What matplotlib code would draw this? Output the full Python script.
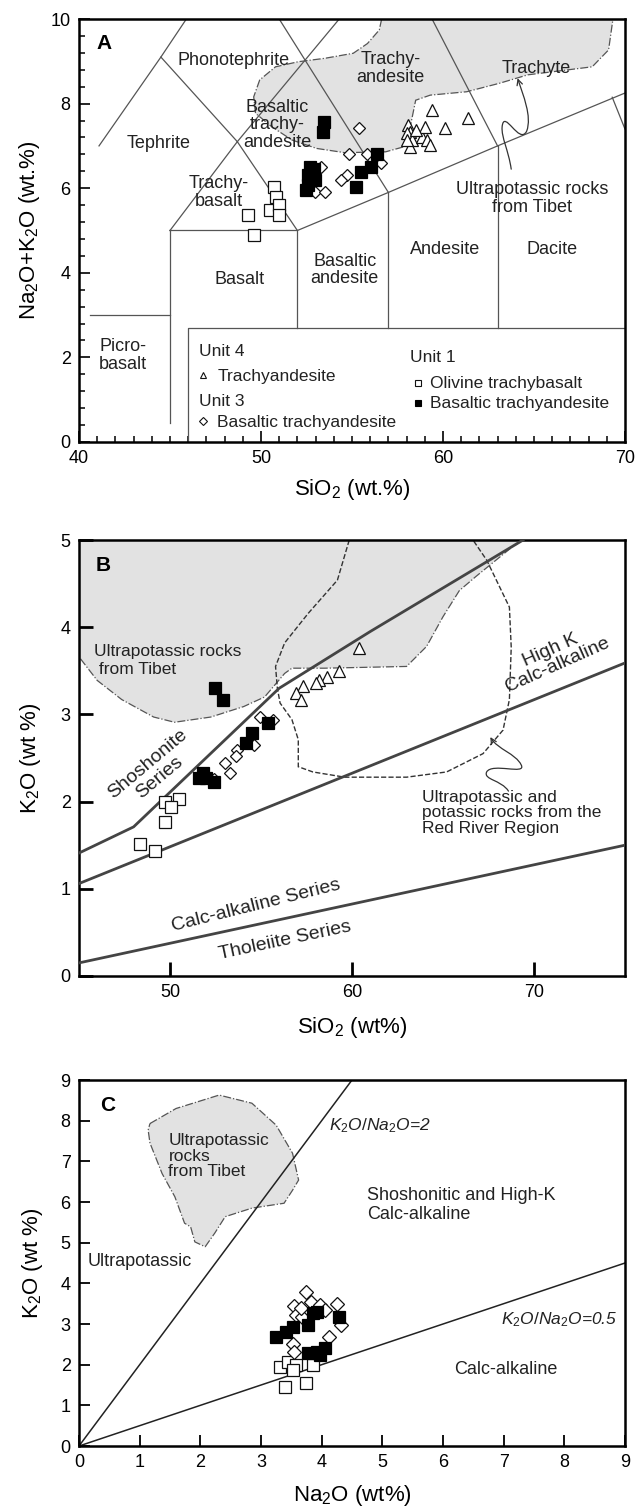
import matplotlib
matplotlib.use("Agg")
import matplotlib.pyplot as plt
from matplotlib.patches import Polygon, FancyArrowPatch
from matplotlib.path import Path
from matplotlib.ticker import MultipleLocator

plt.rcParams['font.family'] = ['Liberation Sans', 'DejaVu Sans']
plt.rcParams['mathtext.fontset'] = 'custom'
plt.rcParams['mathtext.rm'] = 'Liberation Sans'
plt.rcParams['mathtext.it'] = 'Liberation Sans:italic'

TXT = '#222222'
LINE = '#555555'
GREY = '#e2e2e2'

# ---------------- panel A : TAS ----------------
a_tri_x = [58.1, 58.2, 58.0, 58.3, 58.2, 58.85, 59.0, 59.1, 59.3, 59.4, 60.1, 61.4, 58.5, 58.0]
a_tri_y = [7.49, 7.34, 7.30, 7.14, 6.98, 7.22, 7.45, 7.14, 7.02, 7.85, 7.42, 7.65, 7.38, 7.14]
a_dia_x = [55.4, 54.85, 55.8, 56.6, 54.7, 54.4, 53.3, 52.95, 53.5]
a_dia_y = [7.42, 6.82, 6.82, 6.59, 6.31, 6.19, 6.51, 5.92, 5.92]
a_fsq_x = [53.45, 53.4, 52.7, 52.6, 52.6, 52.95, 55.2, 55.5, 56.05, 56.35, 52.5, 52.9]
a_fsq_y = [7.57, 7.34, 6.51, 6.31, 6.08, 6.19, 6.04, 6.39, 6.51, 6.82, 5.96, 6.45]
a_osq_x = [50.7, 50.8, 50.5, 51.0, 51.0, 49.3, 49.6]
a_osq_y = [6.04, 5.80, 5.48, 5.60, 5.37, 5.37, 4.89]

tas_lines = [
    [(40.6, 3.0), (45.0, 3.0)],
    [(45.0, 0.45), (45.0, 5.0)],
    [(41.1, 7.0), (44.5, 9.1), (45.9, 10.0)],
    [(44.5, 9.1), (48.7, 7.1)],
    [(45.0, 5.0), (48.7, 7.1), (52.0, 5.0)],
    [(45.0, 5.0), (52.0, 5.0), (57.0, 5.9), (63.0, 7.0), (70.0, 8.25)],
    [(48.7, 7.1), (54.3, 10.0)],
    [(51.0, 10.0), (57.0, 5.9)],
    [(59.4, 10.0), (63.0, 7.0)],
    [(52.0, 2.7), (52.0, 5.0)],
    [(57.0, 2.7), (57.0, 5.9)],
    [(63.0, 2.7), (63.0, 7.0)],
    [(69.3, 8.15), (70.0, 7.4)],
    [(46.0, 0.0), (46.0, 2.7), (70.0, 2.7)],
]
a_field = [(56.63, 10.0), (56.5, 9.74), (55.85, 9.42), (55.07, 9.19), (53.5, 9.07),
           (52.05, 8.99), (50.8, 8.87), (49.93, 8.56), (49.6, 8.16), (49.7, 7.77),
           (50.6, 7.45), (51.7, 7.14), (53.06, 6.94), (54.6, 6.84), (56.85, 6.86),
           (57.86, 6.98), (58.2, 7.45), (58.5, 8.08), (59.3, 8.2), (61.3, 8.28),
           (63.1, 8.48), (64.66, 8.68), (66.9, 8.8), (68.2, 8.87), (69.1, 9.27),
           (69.34, 10.0)]
# curved leader (start, control, control, end ...)
a_arrow = [(63.75, 6.45), (63.6, 6.9), (63.2, 7.2), (63.25, 7.45),
           (63.35, 7.9), (64.2, 7.0), (64.6, 7.35),
           (64.9, 7.7), (64.4, 8.2), (64.1, 8.6)]
a_labels = [
    ("Phonotephrite", 48.5, 9.03), ("Trachy-\nandesite", 57.1, 8.83),
    ("Trachyte", 65.1, 8.83), ("Basaltic\ntrachy-\nandesite", 50.9, 7.5),
    ("Tephrite", 44.35, 7.06), ("Trachy-\nbasalt", 47.7, 5.9),
    ("Ultrapotassic rocks\nfrom Tibet", 64.9, 5.76), ("Basaltic\nandesite", 54.6, 4.07),
    ("Basalt", 48.8, 3.83), ("Andesite", 60.1, 4.54), ("Dacite", 66.0, 4.54),
    ("Picro-\nbasalt", 42.4, 2.05),
]

# ---------------- panel B : K2O vs SiO2 ----------------
b_tri_x = [60.4, 59.3, 58.6, 58.2, 57.3, 56.95, 57.2, 58.0]
b_tri_y = [3.76, 3.50, 3.43, 3.39, 3.32, 3.24, 3.17, 3.36]
b_dia_x = [54.95, 55.65, 54.6, 53.7, 53.6, 53.05, 53.3, 52.4]
b_dia_y = [2.97, 2.94, 2.65, 2.59, 2.52, 2.44, 2.33, 2.26]
b_fsq_x = [52.5, 52.9, 55.4, 54.5, 54.15, 51.8, 51.6, 52.0, 52.4]
b_fsq_y = [3.30, 3.17, 2.90, 2.79, 2.67, 2.33, 2.27, 2.27, 2.23]
b_osq_x = [49.7, 50.5, 50.05, 49.7, 48.35, 49.2]
b_osq_y = [2.00, 2.03, 1.94, 1.77, 1.51, 1.43]

b_shosh = [(45.0, 1.41), (48.0, 1.71), (56.0, 3.3), (61.0, 3.95), (69.4, 5.0)]
b_highk = [(45.0, 1.06), (75.0, 3.59)]
b_calc = [(45.0, 0.15), (75.0, 1.50)]
b_field = [(45.0, 5.0), (45.0, 3.66), (46.0, 3.39), (47.35, 3.17), (49.1, 2.97),
           (50.25, 2.91), (52.25, 2.97), (54.05, 3.09), (55.2, 3.2), (56.3, 3.47),
           (56.7, 3.53), (58.5, 3.53), (63.0, 3.55), (64.1, 3.78), (65.0, 4.12),
           (65.9, 4.42), (66.8, 4.58), (68.8, 4.92), (69.4, 5.0)]
b_redriver = [(59.85, 5.0), (59.2, 4.54), (57.6, 4.16), (56.3, 3.82), (55.8, 3.55),
              (55.9, 3.3), (56.05, 3.13), (56.7, 2.94), (57.05, 2.71), (57.05, 2.40),
              (57.85, 2.34), (59.6, 2.28), (63.0, 2.28), (65.2, 2.34), (67.2, 2.55),
              (68.3, 2.82), (68.65, 3.17), (68.75, 3.77), (68.65, 4.23), (67.4, 4.77),
              (66.65, 5.0)]
b_arrow = [(68.6, 2.12), (68.2, 2.25), (67.2, 2.25), (67.4, 2.34),
           (67.7, 2.45), (69.6, 2.3), (69.3, 2.42),
           (69.0, 2.55), (68.0, 2.6), (67.6, 2.74)]

# ---------------- panel C : K2O vs Na2O ----------------
c_dia_x = [3.74, 3.55, 3.82, 3.98, 4.05, 4.25, 4.32, 4.12, 3.58, 3.68, 3.52, 3.55, 3.66]
c_dia_y = [3.79, 3.44, 3.55, 3.47, 3.34, 3.49, 2.97, 2.69, 3.22, 3.18, 2.52, 2.32, 3.40]
c_fsq_x = [3.25, 3.52, 3.42, 3.78, 3.85, 3.92, 4.29, 3.78, 3.92, 4.05, 3.98]
c_fsq_y = [2.69, 2.93, 2.81, 2.97, 3.26, 3.30, 3.18, 2.28, 2.32, 2.40, 2.24]
c_osq_x = [3.31, 3.45, 3.58, 3.52, 3.85, 3.40, 3.74]
c_osq_y = [1.95, 2.07, 1.99, 1.87, 1.99, 1.46, 1.54]

c_ratio2 = [(0.0, 0.0), (4.5, 9.0)]
c_ratio05 = [(0.0, 0.0), (9.0, 4.5)]
c_field = [(1.17, 7.93), (1.6, 8.3), (2.31, 8.63), (2.85, 8.43), (3.25, 7.89),
           (3.52, 7.2), (3.62, 6.54), (3.52, 6.29), (3.38, 5.97), (2.85, 5.85),
           (2.41, 5.64), (2.24, 5.24), (2.08, 4.9), (1.91, 5.02), (1.84, 5.39),
           (1.74, 5.48), (1.58, 6.13), (1.37, 6.7), (1.17, 7.45), (1.14, 7.77)]


def pts(ax, x, y, kind, ms):
    if kind == 'tri':
        ax.plot(x, y, '^', ms=ms, mfc='white', mec='#111', mew=0.9, ls='none', zorder=5)
    elif kind == 'dia':
        ax.plot(x, y, 'D', ms=ms * 0.75, mfc='white', mec='#111', mew=0.9, ls='none', zorder=5)
    elif kind == 'fsq':
        ax.plot(x, y, 's', ms=ms, mfc='black', mec='black', mew=0.9, ls='none', zorder=6)
    else:
        ax.plot(x, y, 's', ms=ms, mfc='white', mec='#111', mew=0.9, ls='none', zorder=5)


def line(ax, p, **kw):
    ax.plot([q[0] for q in p], [q[1] for q in p], **kw)


def curved_arrow(ax, p):
    codes = [Path.MOVETO] + [Path.CURVE4] * (len(p) - 1)
    ax.add_patch(FancyArrowPatch(path=Path(p, codes), arrowstyle='->', mutation_scale=10,
                                 color='#333', lw=0.9, zorder=3))


fig = plt.figure(figsize=(6.35, 15.08), dpi=100)
axA = fig.add_axes([0.1244, 0.7069, 0.8598, 0.2805])
axB = fig.add_axes([0.1244, 0.3528, 0.8598, 0.2891])
axC = fig.add_axes([0.1244, 0.0411, 0.8598, 0.2427])

# ---- A ----
ax = axA
ax.add_patch(Polygon(a_field, closed=True, fc=GREY, ec='#555', ls='-.', lw=0.9, zorder=1))
for p in tas_lines:
    line(ax, p, color=LINE, lw=0.9, zorder=2)
curved_arrow(ax, a_arrow)
for s, x, y in a_labels:
    ax.text(x, y, s, ha='center', va='center', fontsize=13, color=TXT, zorder=4,
            linespacing=1.05)
ax.text(41.35, 9.43, 'A', fontsize=15, fontweight='bold', ha='center', va='center')
pts(ax, a_osq_x, a_osq_y, 'osq', 8.5)
pts(ax, a_fsq_x, a_fsq_y, 'fsq', 8.5)
pts(ax, a_dia_x, a_dia_y, 'dia', 8.5)
pts(ax, a_tri_x, a_tri_y, 'tri', 9)
# legend block
ax.text(46.6, 2.13, 'Unit 4', fontsize=12.5, va='center', color=TXT)
ax.text(47.6, 1.56, 'Trachyandesite', fontsize=12.5, va='center', color=TXT)
ax.text(46.6, 0.95, 'Unit 3', fontsize=12.5, va='center', color=TXT)
ax.text(47.6, 0.47, 'Basaltic trachyandesite', fontsize=12.5, va='center', color=TXT)
ax.text(58.2, 2.0, 'Unit 1', fontsize=12.5, va='center', color=TXT)
ax.text(59.3, 1.39, 'Olivine trachybasalt', fontsize=12.5, va='center', color=TXT)
ax.text(59.3, 0.92, 'Basaltic trachyandesite', fontsize=12.5, va='center', color=TXT)
ax.plot([46.8], [1.58], '^', ms=5, mfc='white', mec='#111', mew=0.8)
ax.plot([46.8], [0.49], 'D', ms=4, mfc='white', mec='#111', mew=0.8)
ax.plot([58.65], [1.39], 's', ms=5, mfc='white', mec='#111', mew=0.8)
ax.plot([58.65], [0.92], 's', ms=5, mfc='black', mec='black', mew=0.8)
ax.set_xlim(40, 70)
ax.set_ylim(0, 10)
ax.set_xticks([40, 50, 60, 70])
ax.set_yticks([0, 2, 4, 6, 8, 10])
ax.xaxis.set_minor_locator(MultipleLocator(1))
ax.yaxis.set_minor_locator(MultipleLocator(0.4))
ax.tick_params(which='major', direction='in', length=8, width=1.2, labelsize=13, pad=6)
ax.tick_params(which='minor', direction='in', length=4.5, width=1.1)
ax.set_xlabel('SiO$_2$ (wt.%)', fontsize=16)
ax.set_ylabel('Na$_2$O+K$_2$O (wt.%)', fontsize=16)
ax.xaxis.set_label_coords(0.5, -0.083)
ax.yaxis.set_label_coords(-0.068, 0.5)

# ---- B ----
ax = axB
ax.add_patch(Polygon(b_field, closed=True, fc=GREY, ec='#555', ls='-.', lw=0.9, zorder=1))
ax.add_patch(Polygon(b_redriver, closed=False, fc='none', ec='#333', ls='--', lw=1.0, zorder=2))
for p in (b_shosh, b_highk, b_calc):
    line(ax, p, color='#444', lw=2.0, zorder=3)
curved_arrow(ax, b_arrow)
ax.text(46.35, 4.71, 'B', fontsize=15, fontweight='bold', ha='center', va='center')
ax.text(45.8, 3.62, 'Ultrapotassic rocks\n from Tibet', fontsize=12.5, va='center', color=TXT)
ax.text(71.1, 3.65, 'High K\nCalc-alkaline', fontsize=14, ha='center', va='center',
        rotation=24, color=TXT, linespacing=1.0)
ax.text(49.1, 2.35, 'Shoshonite\nSeries', fontsize=14, ha='center', va='center',
        rotation=40, color=TXT, linespacing=1.0)
ax.text(54.7, 0.81, 'Calc-alkaline Series', fontsize=14, ha='center', va='center',
        rotation=14, color=TXT)
ax.text(56.3, 0.41, 'Tholeiite Series', fontsize=14, ha='center', va='center',
        rotation=12, color=TXT)
ax.text(63.85, 1.87, 'Ultrapotassic and\npotassic rocks from the\nRed River Region',
        fontsize=12.5, va='center', color=TXT, linespacing=1.05)
pts(ax, b_osq_x, b_osq_y, 'osq', 8.5)
pts(ax, b_fsq_x, b_fsq_y, 'fsq', 8.5)
pts(ax, b_dia_x, b_dia_y, 'dia', 8)
pts(ax, b_tri_x, b_tri_y, 'tri', 9)
ax.set_xlim(45, 75)
ax.set_ylim(0, 5)
ax.set_xticks([50, 60, 70])
ax.set_yticks([0, 1, 2, 3, 4, 5])
ax.tick_params(direction='in', length=10, width=2, labelsize=13, pad=6)
ax.set_xlabel('SiO$_2$ (wt%)', fontsize=16)
ax.set_ylabel('K$_2$O (wt %)', fontsize=16)
ax.xaxis.set_label_coords(0.5, -0.089)
ax.yaxis.set_label_coords(-0.066, 0.5)

# ---- C ----
ax = axC
ax.add_patch(Polygon(c_field, closed=True, fc=GREY, ec='#555', ls='-.', lw=0.9, zorder=1))
line(ax, c_ratio2, color='#222', lw=1.1, zorder=2)
line(ax, c_ratio05, color='#222', lw=1.1, zorder=2)
ax.text(0.47, 8.38, 'C', fontsize=15, fontweight='bold', ha='center', va='center')
ax.text(4.12, 7.89, '$K_2O/Na_2O$=2', fontsize=12.5, style='italic', va='center', color=TXT)
ax.text(8.87, 3.10, '$K_2O/Na_2O$=0.5', fontsize=12.5, style='italic', ha='right',
        va='center', color=TXT)
ax.text(1.475, 7.13, 'Ultrapotassic\nrocks\nfrom Tibet', fontsize=12.5, va='center',
        color=TXT, linespacing=1.05)
ax.text(4.75, 5.93, 'Shoshonitic and High-K\nCalc-alkaline', fontsize=13, va='center',
        color=TXT)
ax.text(0.137, 4.53, 'Ultrapotassic', fontsize=13, va='center', color=TXT)
ax.text(6.18, 1.87, 'Calc-alkaline', fontsize=13, va='center', color=TXT)
pts(ax, c_osq_x, c_osq_y, 'osq', 8.5)
pts(ax, c_dia_x, c_dia_y, 'dia', 9)
pts(ax, c_fsq_x, c_fsq_y, 'fsq', 8.5)
ax.set_xlim(0, 9)
ax.set_ylim(0, 9)
ax.set_xticks(range(10))
ax.set_yticks(range(10))
ax.tick_params(direction='in', length=8, width=1.3, labelsize=13, pad=6)
ax.set_xlabel('Na$_2$O (wt%)', fontsize=16)
ax.set_ylabel('K$_2$O (wt %)', fontsize=16)
ax.xaxis.set_label_coords(0.5, -0.101)
ax.yaxis.set_label_coords(-0.062, 0.5)

for a in (axA, axB, axC):
    for sp in a.spines.values():
        sp.set_linewidth(1.8)

fig.savefig('out.png', dpi=100)
